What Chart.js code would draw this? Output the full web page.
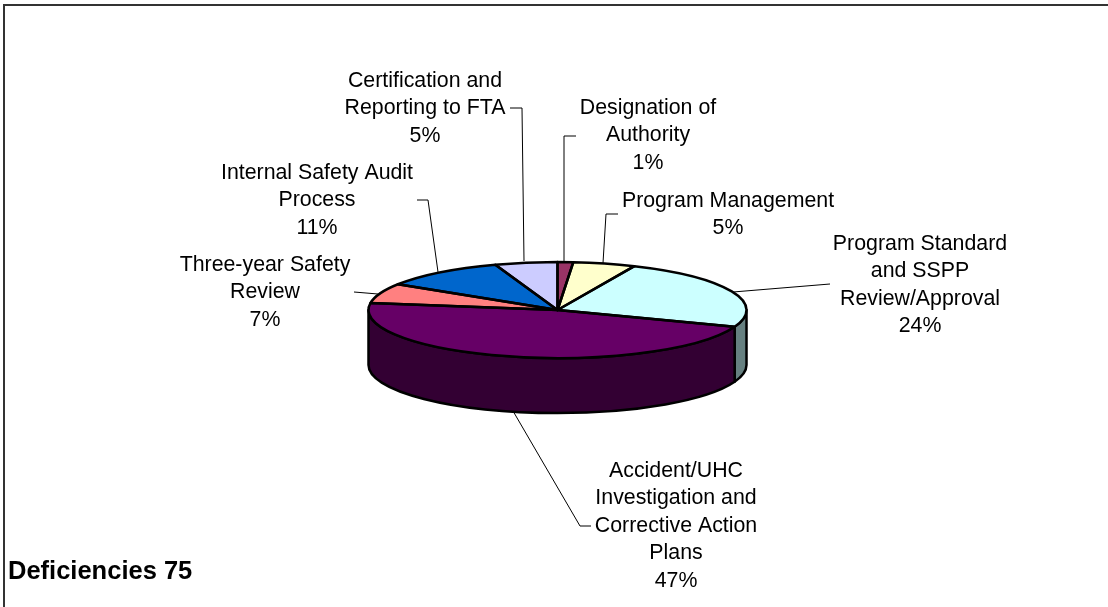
<!DOCTYPE html>
<html>
<head>
<meta charset="utf-8">
<title>Deficiencies 75</title>
<script src="https://cdn.jsdelivr.net/npm/chart.js@4"></script>
<style>
    html, body { margin: 0; padding: 0; background: #fff; }
    canvas { display: block; }
</style>
</head>
<body>
<canvas id="chartDeficiencies" width="1108" height="607"></canvas>
<script>
/* counts per category, total 75 */
const categories = [
    ['Designation of', 'Authority'],
    ['Program Management'],
    ['Program Standard', 'and SSPP', 'Review/Approval'],
    ['Accident/UHC', 'Investigation and', 'Corrective Action', 'Plans'],
    ['Three-year Safety', 'Review'],
    ['Internal Safety Audit', 'Process'],
    ['Certification and', 'Reporting to FTA'],
];
const deficiencies = [1, 4, 18, 35, 5, 8, 4];
const sliceColors = ['#993366', '#FFFFCC', '#CCFFFF', '#660066', '#FF8080', '#0066CC', '#CCCCFF'];
const wallColors = ['#4D1A33', '#808066', '#668080', '#330033', '#804040', '#003366', '#666680'];
const cornerNote = 'Deficiencies 75';

// label placement, same order as categories
const labelAnchors = [
    { x: 648, y: 108 },
    { x: 728, y: 201 },
    { x: 920, y: 244 },
    { x: 676, y: 471 },
    { x: 265, y: 265 },
    { x: 317, y: 173 },
    { x: 425, y: 81 },
];
const leaderLines = [
    [[576, 136], [564, 136], [564, 261]],
    [[618, 214], [606, 214], [603, 263]],
    [[830, 284], [733, 292]],
    [[513, 411], [580, 526], [591, 526]],
    [[354, 292], [378, 294]],
    [[417, 200], [428, 200], [438, 272]],
    [[510, 108], [522, 108], [524, 261]],
];

const PIE_RADIUS = 189;
const TILT = 48 / 189;   // ellipse squash
const DEPTH = 55;
const LINE_H = 27.5;
const PEN = 2.5;

// squashes the library's pie into an ellipse and adds the side wall
const pie3d = {
    id: 'pie3d',
    beforeDatasetsDraw(chart) {
        const ctx = chart.ctx;
        const arcs = chart.getDatasetMeta(0).data;
        const cx = arcs[0].x, cy = arcs[0].y;
        const rx = arcs[0].outerRadius, ry = rx * TILT;

        // side wall, only the part facing the viewer
        ctx.save();
        ctx.lineWidth = PEN;
        ctx.strokeStyle = '#000';
        ctx.lineJoin = 'round';
        arcs.forEach((arc, i) => {
            const a0 = Math.max(arc.startAngle, 0);
            const a1 = Math.min(arc.endAngle, Math.PI);
            if (a1 <= a0) return;
            ctx.beginPath();
            ctx.ellipse(cx, cy, rx, ry, 0, a0, a1);
            ctx.ellipse(cx, cy + DEPTH, rx, ry, 0, a1, a0, true);
            ctx.closePath();
            ctx.fillStyle = wallColors[i];
            ctx.fill();
            ctx.stroke();
        });
        ctx.restore();

        ctx.save();
        ctx.translate(cx, cy);
        ctx.scale(1, TILT);
        ctx.translate(-cx, -cy);
    },
    afterDatasetsDraw(chart) {
        const ctx = chart.ctx;
        ctx.restore();

        // outlines in screen space so the pen stays even all round
        const arcs = chart.getDatasetMeta(0).data;
        ctx.save();
        ctx.lineWidth = PEN;
        ctx.strokeStyle = '#000';
        ctx.lineJoin = 'round';
        arcs.forEach(arc => {
            const ry = arc.outerRadius * TILT;
            ctx.beginPath();
            ctx.moveTo(arc.x, arc.y);
            ctx.ellipse(arc.x, arc.y, arc.outerRadius, ry, 0, arc.startAngle, arc.endAngle);
            ctx.closePath();
            ctx.stroke();
        });
        ctx.restore();
    },
};

// data labels, leader lines, frame
const annotations = {
    id: 'annotations',
    afterDraw(chart) {
        const ctx = chart.ctx;
        const total = deficiencies.reduce((a, b) => a + b, 0);
        ctx.save();

        ctx.strokeStyle = '#000';
        ctx.lineWidth = 1;
        leaderLines.forEach(pts => {
            ctx.beginPath();
            pts.forEach((p, i) => i ? ctx.lineTo(p[0], p[1]) : ctx.moveTo(p[0], p[1]));
            ctx.stroke();
        });

        ctx.fillStyle = '#000';
        ctx.font = '21.33px "Liberation Sans", Arial, sans-serif';
        ctx.textAlign = 'center';
        ctx.textBaseline = 'middle';
        categories.forEach((lines, i) => {
            const pct = Math.round(deficiencies[i] / total * 100) + '%';
            lines.concat(pct).forEach((t, n) => {
                ctx.fillText(t, labelAnchors[i].x, labelAnchors[i].y + n * LINE_H);
            });
        });

        ctx.font = 'bold 25.5px "Liberation Sans", Arial, sans-serif';
        ctx.textAlign = 'left';
        ctx.fillText(cornerNote, 8, 572);

        // frame only shows on the top and left
        ctx.lineWidth = 2;
        ctx.strokeStyle = '#333';
        ctx.beginPath();
        ctx.moveTo(4, 607);
        ctx.lineTo(4, 5);
        ctx.lineTo(1108, 5);
        ctx.stroke();
        ctx.restore();
    },
};

new Chart(document.getElementById('chartDeficiencies'), {
    type: 'pie',
    data: {
        labels: categories.map(c => c.join(' ')),
        datasets: [{
            data: deficiencies,
            backgroundColor: sliceColors,
            borderWidth: 0,
            radius: PIE_RADIUS,
        }],
    },
    options: {
        responsive: false,
        animation: false,
        layout: { padding: { left: 7, top: 13 } },
        plugins: {
            legend: { display: false },
            tooltip: { enabled: false },
        },
    },
    plugins: [pie3d, annotations],
});
</script>
</body>
</html>
